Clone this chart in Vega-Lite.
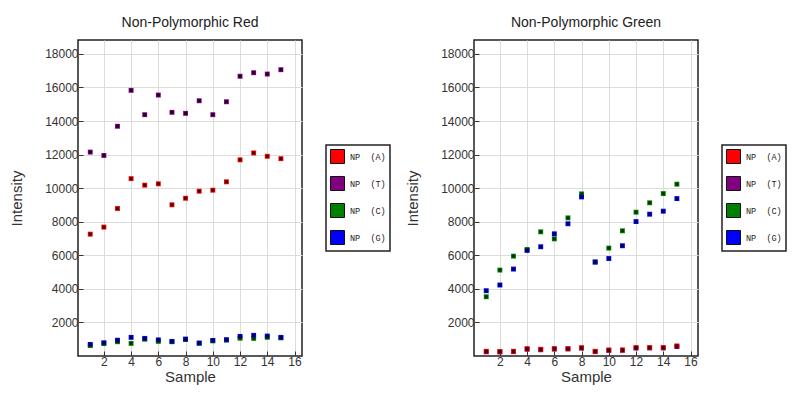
{
  "$schema": "https://vega.github.io/schema/vega-lite/v6.json",
  "background": "white",
  "padding": {"left": 8, "top": 15, "right": 5, "bottom": 5},
  "datasets": {
    "pts": [
      {"panel": "Red", "series": "C", "sample": 1, "value": 620},
      {"panel": "Red", "series": "C", "sample": 2, "value": 740},
      {"panel": "Red", "series": "C", "sample": 3, "value": 850},
      {"panel": "Red", "series": "C", "sample": 4, "value": 750},
      {"panel": "Red", "series": "C", "sample": 5, "value": 1000},
      {"panel": "Red", "series": "C", "sample": 6, "value": 870},
      {"panel": "Red", "series": "C", "sample": 7, "value": 850},
      {"panel": "Red", "series": "C", "sample": 8, "value": 980},
      {"panel": "Red", "series": "C", "sample": 9, "value": 760},
      {"panel": "Red", "series": "C", "sample": 10, "value": 900},
      {"panel": "Red", "series": "C", "sample": 11, "value": 950},
      {"panel": "Red", "series": "C", "sample": 12, "value": 1060},
      {"panel": "Red", "series": "C", "sample": 13, "value": 1050},
      {"panel": "Red", "series": "C", "sample": 14, "value": 1110},
      {"panel": "Red", "series": "C", "sample": 15, "value": 1080},
      {"panel": "Red", "series": "G", "sample": 1, "value": 690},
      {"panel": "Red", "series": "G", "sample": 2, "value": 790},
      {"panel": "Red", "series": "G", "sample": 3, "value": 940},
      {"panel": "Red", "series": "G", "sample": 4, "value": 1110},
      {"panel": "Red", "series": "G", "sample": 5, "value": 1050},
      {"panel": "Red", "series": "G", "sample": 6, "value": 960},
      {"panel": "Red", "series": "G", "sample": 7, "value": 870},
      {"panel": "Red", "series": "G", "sample": 8, "value": 1010},
      {"panel": "Red", "series": "G", "sample": 9, "value": 770},
      {"panel": "Red", "series": "G", "sample": 10, "value": 930},
      {"panel": "Red", "series": "G", "sample": 11, "value": 970},
      {"panel": "Red", "series": "G", "sample": 12, "value": 1170},
      {"panel": "Red", "series": "G", "sample": 13, "value": 1230},
      {"panel": "Red", "series": "G", "sample": 14, "value": 1190},
      {"panel": "Red", "series": "G", "sample": 15, "value": 1110},
      {"panel": "Red", "series": "T", "sample": 1, "value": 12150},
      {"panel": "Red", "series": "T", "sample": 2, "value": 11950},
      {"panel": "Red", "series": "T", "sample": 3, "value": 13690},
      {"panel": "Red", "series": "T", "sample": 4, "value": 15830},
      {"panel": "Red", "series": "T", "sample": 5, "value": 14380},
      {"panel": "Red", "series": "T", "sample": 6, "value": 15550},
      {"panel": "Red", "series": "T", "sample": 7, "value": 14520},
      {"panel": "Red", "series": "T", "sample": 8, "value": 14460},
      {"panel": "Red", "series": "T", "sample": 9, "value": 15210},
      {"panel": "Red", "series": "T", "sample": 10, "value": 14380},
      {"panel": "Red", "series": "T", "sample": 11, "value": 15150},
      {"panel": "Red", "series": "T", "sample": 12, "value": 16670},
      {"panel": "Red", "series": "T", "sample": 13, "value": 16880},
      {"panel": "Red", "series": "T", "sample": 14, "value": 16800},
      {"panel": "Red", "series": "T", "sample": 15, "value": 17060},
      {"panel": "Red", "series": "A", "sample": 1, "value": 7260},
      {"panel": "Red", "series": "A", "sample": 2, "value": 7680},
      {"panel": "Red", "series": "A", "sample": 3, "value": 8790},
      {"panel": "Red", "series": "A", "sample": 4, "value": 10570},
      {"panel": "Red", "series": "A", "sample": 5, "value": 10180},
      {"panel": "Red", "series": "A", "sample": 6, "value": 10260},
      {"panel": "Red", "series": "A", "sample": 7, "value": 9010},
      {"panel": "Red", "series": "A", "sample": 8, "value": 9400},
      {"panel": "Red", "series": "A", "sample": 9, "value": 9820},
      {"panel": "Red", "series": "A", "sample": 10, "value": 9880},
      {"panel": "Red", "series": "A", "sample": 11, "value": 10380},
      {"panel": "Red", "series": "A", "sample": 12, "value": 11690},
      {"panel": "Red", "series": "A", "sample": 13, "value": 12100},
      {"panel": "Red", "series": "A", "sample": 14, "value": 11900},
      {"panel": "Red", "series": "A", "sample": 15, "value": 11760},
      {"panel": "Green", "series": "T", "sample": 1, "value": 250},
      {"panel": "Green", "series": "T", "sample": 2, "value": 240},
      {"panel": "Green", "series": "T", "sample": 3, "value": 260},
      {"panel": "Green", "series": "T", "sample": 4, "value": 400},
      {"panel": "Green", "series": "T", "sample": 5, "value": 370},
      {"panel": "Green", "series": "T", "sample": 6, "value": 410},
      {"panel": "Green", "series": "T", "sample": 7, "value": 420},
      {"panel": "Green", "series": "T", "sample": 8, "value": 470},
      {"panel": "Green", "series": "T", "sample": 9, "value": 260},
      {"panel": "Green", "series": "T", "sample": 10, "value": 330},
      {"panel": "Green", "series": "T", "sample": 11, "value": 340},
      {"panel": "Green", "series": "T", "sample": 12, "value": 470},
      {"panel": "Green", "series": "T", "sample": 13, "value": 480},
      {"panel": "Green", "series": "T", "sample": 14, "value": 480},
      {"panel": "Green", "series": "T", "sample": 15, "value": 560},
      {"panel": "Green", "series": "A", "sample": 1, "value": 280},
      {"panel": "Green", "series": "A", "sample": 2, "value": 270},
      {"panel": "Green", "series": "A", "sample": 3, "value": 280},
      {"panel": "Green", "series": "A", "sample": 4, "value": 440},
      {"panel": "Green", "series": "A", "sample": 5, "value": 400},
      {"panel": "Green", "series": "A", "sample": 6, "value": 440},
      {"panel": "Green", "series": "A", "sample": 7, "value": 440},
      {"panel": "Green", "series": "A", "sample": 8, "value": 490},
      {"panel": "Green", "series": "A", "sample": 9, "value": 280},
      {"panel": "Green", "series": "A", "sample": 10, "value": 360},
      {"panel": "Green", "series": "A", "sample": 11, "value": 360},
      {"panel": "Green", "series": "A", "sample": 12, "value": 500},
      {"panel": "Green", "series": "A", "sample": 13, "value": 500},
      {"panel": "Green", "series": "A", "sample": 14, "value": 500},
      {"panel": "Green", "series": "A", "sample": 15, "value": 600},
      {"panel": "Green", "series": "C", "sample": 1, "value": 3530},
      {"panel": "Green", "series": "C", "sample": 2, "value": 5120},
      {"panel": "Green", "series": "C", "sample": 3, "value": 5950},
      {"panel": "Green", "series": "C", "sample": 4, "value": 6350},
      {"panel": "Green", "series": "C", "sample": 5, "value": 7400},
      {"panel": "Green", "series": "C", "sample": 6, "value": 6980},
      {"panel": "Green", "series": "C", "sample": 7, "value": 8230},
      {"panel": "Green", "series": "C", "sample": 8, "value": 9660},
      {"panel": "Green", "series": "C", "sample": 9, "value": 5600},
      {"panel": "Green", "series": "C", "sample": 10, "value": 6430},
      {"panel": "Green", "series": "C", "sample": 11, "value": 7460},
      {"panel": "Green", "series": "C", "sample": 12, "value": 8570},
      {"panel": "Green", "series": "C", "sample": 13, "value": 9130},
      {"panel": "Green", "series": "C", "sample": 14, "value": 9680},
      {"panel": "Green", "series": "C", "sample": 15, "value": 10240},
      {"panel": "Green", "series": "G", "sample": 1, "value": 3890},
      {"panel": "Green", "series": "G", "sample": 2, "value": 4230},
      {"panel": "Green", "series": "G", "sample": 3, "value": 5180},
      {"panel": "Green", "series": "G", "sample": 4, "value": 6290},
      {"panel": "Green", "series": "G", "sample": 5, "value": 6510},
      {"panel": "Green", "series": "G", "sample": 6, "value": 7280},
      {"panel": "Green", "series": "G", "sample": 7, "value": 7880},
      {"panel": "Green", "series": "G", "sample": 8, "value": 9480},
      {"panel": "Green", "series": "G", "sample": 9, "value": 5600},
      {"panel": "Green", "series": "G", "sample": 10, "value": 5810},
      {"panel": "Green", "series": "G", "sample": 11, "value": 6570},
      {"panel": "Green", "series": "G", "sample": 12, "value": 8010},
      {"panel": "Green", "series": "G", "sample": 13, "value": 8450},
      {"panel": "Green", "series": "G", "sample": 14, "value": 8630},
      {"panel": "Green", "series": "G", "sample": 15, "value": 9380}
    ]
  },
  "data": {"name": "pts"},
  "config": {
    "font": "Liberation Sans",
    "view": {"stroke": "#222", "strokeWidth": 1.5},
    "axis": {
      "gridColor": "#dcdcdc", "gridWidth": 1, "domain": false,
      "labelFont": "Liberation Sans", "labelFontSize": 12, "labelColor": "#333",
      "titleFont": "Liberation Sans", "titleFontSize": 15, "titleFontWeight": "normal", "titleColor": "#333",
      "tickColor": "#333", "tickSize": -5, "format": "d"
    },
    "title": {"font": "Liberation Sans", "fontSize": 14, "fontWeight": "normal", "color": "#222", "offset": 10, "anchor": "middle"},
    "legend": {
      "orient": "none", "legendX": 248, "legendY": 105,
      "title": null, "padding": 4, "strokeColor": "#222", "strokeWidth": 1.5, "fillColor": "white",
      "symbolType": "square", "symbolSize": 196, "symbolStrokeColor": "#111", "symbolStrokeWidth": 1,
      "labelFont": "Liberation Mono", "labelFontSize": 8.5, "labelColor": "#222",
      "rowPadding": 8, "labelOffset": 5
    },
    "concat": {"spacing": 12}
  },
  "resolve": {
    "scale": {"x": "independent", "y": "independent", "color": "independent", "fill": "independent"},
    "legend": {"color": "independent"}
  },
  "hconcat": [
    {
      "title": "Non-Polymorphic Red",
      "width": 224, "height": 316,
      "transform": [{"filter": "datum.panel == 'Red'"}],
      "encoding": {
        "x": {"field": "sample", "type": "quantitative", "scale": {"domain": [0.1, 16.55], "nice": false, "zero": false}, "axis": {"values": [2, 4, 6, 8, 10, 12, 14, 16], "title": "Sample", "labelPadding": 5, "titlePadding": 2}},
        "y": {"field": "value", "type": "quantitative", "scale": {"domain": [0, 18830], "nice": false}, "axis": {"values": [2000, 4000, 6000, 8000, 10000, 12000, 14000, 16000, 18000], "title": "Intensity", "labelPadding": 5, "titlePadding": 20}}
      },
      "layer": [
        {"mark": {"type": "square", "size": 24, "opacity": 1}, "encoding": {"color": {"field": "series", "type": "nominal", "scale": {"domain": ["A", "T", "C", "G"], "range": ["#ff0000", "#800080", "#008000", "#0000ff"]}, "legend": {"labelExpr": "'NP\u00a0\u00a0(' + datum.label + ')'"}}}},
        {"mark": {"type": "square", "size": 9, "opacity": 1}, "encoding": {"fill": {"field": "series", "type": "nominal", "scale": {"domain": ["A", "T", "C", "G"], "range": ["#3a0008", "#1a0018", "#063006", "#000040"]}, "legend": null}}}
      ]
    },
    {
      "title": "Non-Polymorphic Green",
      "width": 224, "height": 316,
      "transform": [{"filter": "datum.panel == 'Green'"}],
      "encoding": {
        "x": {"field": "sample", "type": "quantitative", "scale": {"domain": [0.1, 16.55], "nice": false, "zero": false}, "axis": {"values": [2, 4, 6, 8, 10, 12, 14, 16], "title": "Sample", "labelPadding": 5, "titlePadding": 2}},
        "y": {"field": "value", "type": "quantitative", "scale": {"domain": [0, 18830], "nice": false}, "axis": {"values": [2000, 4000, 6000, 8000, 10000, 12000, 14000, 16000, 18000], "title": "Intensity", "labelPadding": 5, "titlePadding": 20}}
      },
      "layer": [
        {"mark": {"type": "square", "size": 24, "opacity": 1}, "encoding": {"color": {"field": "series", "type": "nominal", "scale": {"domain": ["A", "T", "C", "G"], "range": ["#ff0000", "#800080", "#008000", "#0000ff"]}, "legend": {"labelExpr": "'NP\u00a0\u00a0(' + datum.label + ')'"}}}},
        {"mark": {"type": "square", "size": 9, "opacity": 1}, "encoding": {"fill": {"field": "series", "type": "nominal", "scale": {"domain": ["A", "T", "C", "G"], "range": ["#3a0008", "#1a0018", "#063006", "#000040"]}, "legend": null}}}
      ]
    }
  ]
}
